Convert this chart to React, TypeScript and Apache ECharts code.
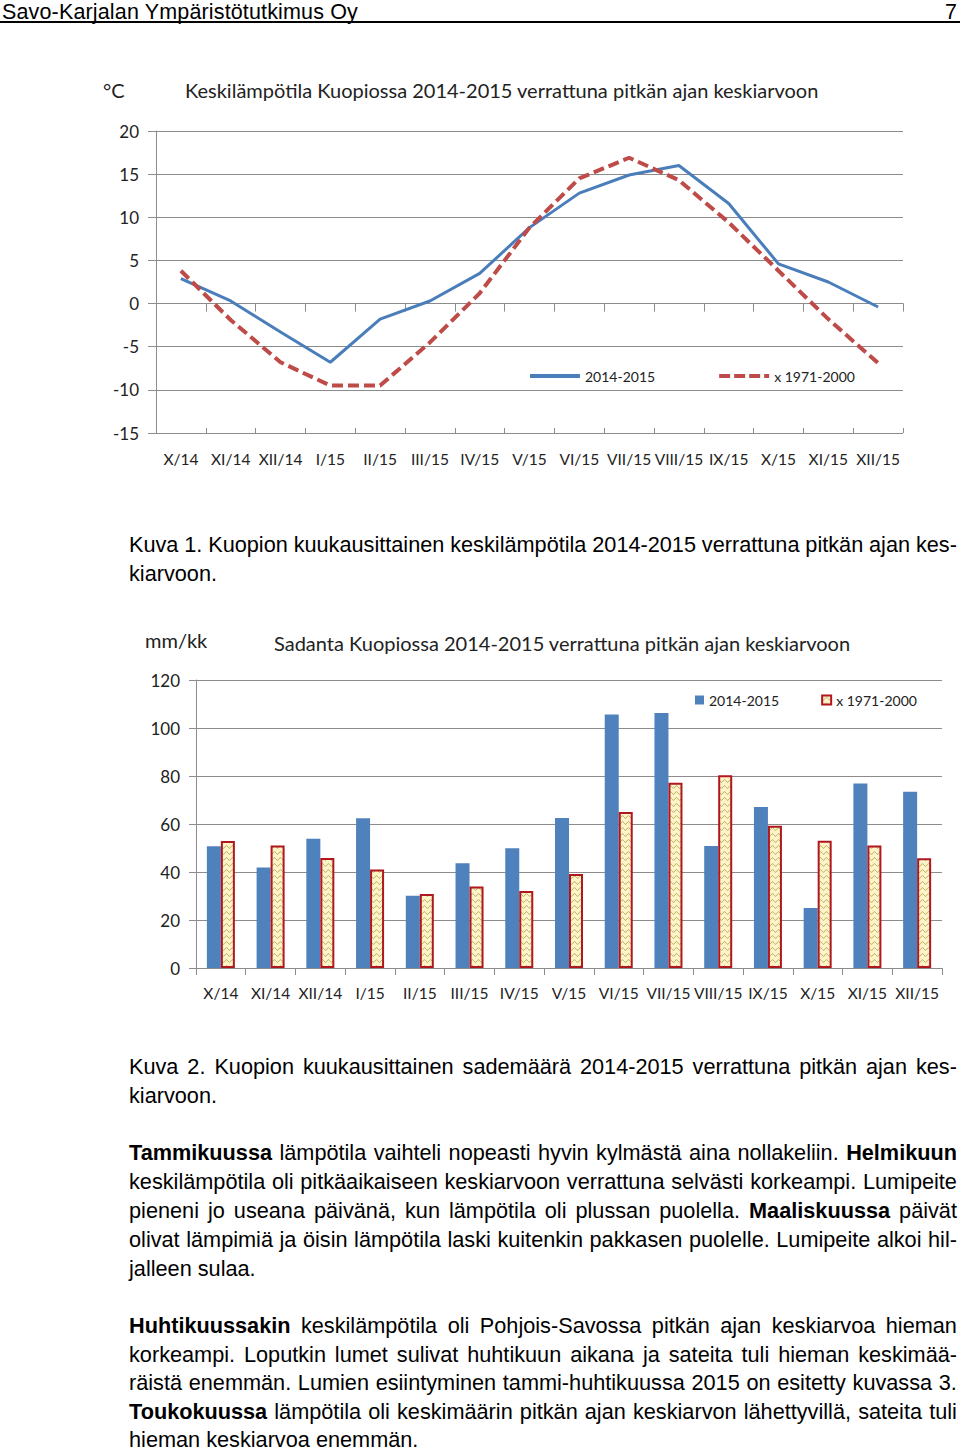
import React, { useEffect, useRef } from "react";
import * as echarts from "echarts";

// ---------- data ----------
const months = ["X/14", "XI/14", "XII/14", "I/15", "II/15", "III/15", "IV/15", "V/15", "VI/15", "VII/15", "VIII/15", "IX/15", "X/15", "XI/15", "XII/15"];
const temp20142015 = [2.9, 0.3, -3.3, -6.8, -1.8, 0.3, 3.5, 8.8, 12.8, 14.9, 16.0, 11.6, 4.6, 2.5, -0.4];
const temp19712000 = [3.8, -1.9, -6.8, -9.5, -9.5, -4.5, 1.2, 8.8, 14.5, 16.9, 14.3, 9.4, 3.8, -1.8, -6.9];
const rain20142015 = [50.7, 41.9, 53.9, 62.4, 30.1, 43.6, 49.9, 62.5, 105.6, 106.2, 50.8, 67.1, 25.0, 76.9, 73.4];
const rain19712000 = [52.9, 51.0, 45.8, 41.0, 30.8, 34.0, 32.1, 39.2, 65.0, 77.2, 80.3, 59.3, 53.0, 51.0, 45.7];
const seriesNames = ["2014-2015", "x 1971-2000"];
const tempAxis = { min: -15, max: 20, interval: 5 };
const rainAxis = { min: 0, max: 120, interval: 20 };

const headerLeft = "Savo-Karjalan Ympäristötutkimus Oy";
const headerRight = "7";
const tempUnit = "°C";
const tempTitle = "Keskilämpötila Kuopiossa 2014-2015 verrattuna pitkän ajan keskiarvoon";
const rainUnit = "mm/kk";
const rainTitle = "Sadanta Kuopiossa 2014-2015 verrattuna pitkän ajan keskiarvoon";

const caption1 = ["Kuva 1. Kuopion kuukausittainen keskilämpötila 2014-2015 verrattuna pitkän ajan kes-", "kiarvoon."];
const caption2 = ["Kuva 2. Kuopion kuukausittainen sademäärä 2014-2015 verrattuna pitkän ajan kes-", "kiarvoon."];
const para1 = [
  "**Tammikuussa** lämpötila vaihteli nopeasti hyvin kylmästä aina nollakeliin. **Helmikuun**",
  "keskilämpötila oli pitkäaikaiseen keskiarvoon verrattuna selvästi korkeampi. Lumipeite",
  "pieneni jo useana päivänä, kun lämpötila oli plussan puolella. **Maaliskuussa** päivät",
  "olivat lämpimiä ja öisin lämpötila laski kuitenkin pakkasen puolelle. Lumipeite alkoi hil-",
  "jalleen sulaa.",
];
const para2 = [
  "**Huhtikuussakin** keskilämpötila oli Pohjois-Savossa pitkän ajan keskiarvoa hieman",
  "korkeampi. Loputkin lumet sulivat huhtikuun aikana ja sateita tuli hieman keskimää-",
  "räistä enemmän. Lumien esiintyminen tammi-huhtikuussa 2015 on esitetty kuvassa 3.",
  "**Toukokuussa** lämpötila oli keskimäärin pitkän ajan keskiarvon lähettyvillä, sateita tuli",
  "hieman keskiarvoa enemmän.",
];

const BLUE = "#4A7EBB";
const RED = "#BE4B48";
const GRID = "#8C8C8C";
const TXT = "#222";
const CHART_FONT = "Lato, 'Open Sans', sans-serif";
const DASH_ICON = "path://M0,0H11V4H0Z M15,0H26V4H15Z M30,0H41V4H30Z M45,0H50V4H45Z";

function makePattern() {
  const c = document.createElement("canvas");
  c.width = 6;
  c.height = 6;
  const ctx = c.getContext("2d");
  if (ctx) {
    ctx.fillStyle = "#FFF4C8";
    ctx.fillRect(0, 0, 6, 6);
    ctx.strokeStyle = "#A9AC5C";
    ctx.lineWidth = 1;
    ctx.beginPath();
    for (let x = 0; x <= 6; x += 0.5) {
      const y = 3 + Math.sin((x / 6) * Math.PI * 2) * 1.3;
      if (x === 0) ctx.moveTo(x, y);
      else ctx.lineTo(x, y);
    }
    ctx.stroke();
  }
  return c;
}

const titleStyle = { fontFamily: CHART_FONT, fontSize: 20, fontWeight: "normal", color: TXT, lineHeight: 22 };

function TempChart() {
  const ref = useRef<HTMLDivElement>(null);
  useEffect(() => {
    if (!ref.current) return;
    const chart = echarts.init(ref.current, undefined, { renderer: "svg" });
    chart.setOption({
      animation: false,
      title: [
        { text: tempUnit, left: 103, top: 19, padding: 0, textStyle: titleStyle },
        { text: tempTitle, left: 185, top: 19, padding: 0, textStyle: titleStyle },
      ],
      legend: {
        left: 530,
        top: 309,
        itemWidth: 50,
        itemHeight: 4,
        itemGap: 64,
        padding: 0,
        textStyle: { fontFamily: CHART_FONT, fontSize: 14, color: TXT },
        data: [
          { name: seriesNames[0], icon: "rect" },
          { name: seriesNames[1], icon: DASH_ICON },
        ],
      },
      grid: { left: 156, top: 71, width: 747, height: 302 },
      xAxis: [
        {
          type: "category",
          data: months,
          position: "bottom",
          axisLine: { onZero: true, lineStyle: { color: GRID, width: 1 } },
          axisTick: { show: true, length: 8, lineStyle: { color: GRID } },
          axisLabel: { show: false },
        },
        {
          type: "category",
          data: months,
          position: "bottom",
          axisLine: { show: false, onZero: false },
          axisTick: { show: false },
          axisLabel: { interval: 0, margin: 18, fontFamily: CHART_FONT, fontSize: 15.5, color: TXT },
        },
        {
          type: "category",
          data: months,
          position: "bottom",
          axisLine: { onZero: true, show: false },
          axisTick: { show: true, inside: true, length: 5, lineStyle: { color: GRID } },
          axisLabel: { show: false },
        },
      ],
      yAxis: {
        type: "value",
        min: tempAxis.min,
        max: tempAxis.max,
        interval: tempAxis.interval,
        axisLine: { show: true, lineStyle: { color: GRID } },
        axisTick: { show: true, length: 8, lineStyle: { color: GRID } },
        splitLine: { lineStyle: { color: GRID, width: 1 } },
        axisLabel: { margin: 17, fontFamily: CHART_FONT, fontSize: 17, color: TXT },
      },
      series: [
        {
          name: seriesNames[0],
          type: "line",
          data: temp20142015,
          symbol: "none",
          lineStyle: { color: BLUE, width: 3 },
          itemStyle: { color: BLUE },
        },
        {
          name: seriesNames[1],
          type: "line",
          data: temp19712000,
          symbol: "none",
          lineStyle: { color: RED, width: 4, type: [11, 5] },
          itemStyle: { color: RED },
        },
      ],
    });
    return () => chart.dispose();
  }, []);
  return <div ref={ref} style={{ position: "absolute", left: 0, top: 60, width: 960, height: 420 }} />;
}

function RainChart() {
  const ref = useRef<HTMLDivElement>(null);
  useEffect(() => {
    if (!ref.current) return;
    const chart = echarts.init(ref.current, undefined, { renderer: "svg" });
    const pattern = makePattern();
    chart.setOption({
      animation: false,
      title: [
        { text: rainUnit, left: 145, top: 19, padding: 0, textStyle: titleStyle },
        { text: rainTitle, left: 274, top: 22, padding: 0, textStyle: titleStyle },
      ],
      legend: {
        left: 695,
        top: 83,
        icon: "rect",
        itemWidth: 9,
        itemHeight: 9,
        itemGap: 42,
        padding: 0,
        textStyle: { fontFamily: CHART_FONT, fontSize: 14, color: TXT },
        data: seriesNames,
      },
      grid: { left: 196, top: 70, width: 746, height: 288 },
      xAxis: {
        type: "category",
        data: months,
        axisLine: { lineStyle: { color: GRID } },
        axisTick: { show: true, length: 7, lineStyle: { color: GRID } },
        axisLabel: { interval: 0, margin: 17, fontFamily: CHART_FONT, fontSize: 15.5, color: TXT },
      },
      yAxis: {
        type: "value",
        min: rainAxis.min,
        max: rainAxis.max,
        interval: rainAxis.interval,
        axisLine: { show: true, lineStyle: { color: GRID } },
        axisTick: { show: true, length: 7, lineStyle: { color: GRID } },
        splitLine: { lineStyle: { color: GRID, width: 1 } },
        axisLabel: { margin: 16, fontFamily: CHART_FONT, fontSize: 17, color: TXT },
      },
      series: [
        {
          name: seriesNames[0],
          type: "bar",
          data: rain20142015,
          barWidth: 14,
          barGap: "0%",
          itemStyle: { color: "#4F81BD" },
        },
        {
          name: seriesNames[1],
          type: "bar",
          data: rain19712000,
          barWidth: 14,
          barGap: "0%",
          itemStyle: { color: { image: pattern, repeat: "repeat" }, borderColor: "#B0171F", borderWidth: 2 },
        },
      ],
    });
    return () => chart.dispose();
  }, []);
  return <div ref={ref} style={{ position: "absolute", left: 0, top: 610, width: 960, height: 410 }} />;
}

const TEXT_FONT = "'Liberation Sans', Arial, sans-serif";
const TEXT_SIZE = 21.7;

function TextLine({ text, centerY, justify }: { text: string; centerY: number; justify: boolean }) {
  const words = text.split(" ");
  return (
    <div
      style={{
        position: "absolute",
        left: 129,
        top: centerY - 11,
        width: 828,
        height: 22,
        lineHeight: "22px",
        fontFamily: TEXT_FONT,
        fontSize: TEXT_SIZE,
        color: "#000",
        display: "flex",
        justifyContent: justify ? "space-between" : "flex-start",
        whiteSpace: "pre",
      }}
    >
      {words.map((w, i) => {
        const bold = w.startsWith("**");
        const clean = w.replace(/\*\*/g, "");
        return (
          <span key={i} style={{ fontWeight: bold ? "bold" : "normal", flexShrink: 0 }}>
            {clean}
            {!justify && i < words.length - 1 ? " " : ""}
          </span>
        );
      })}
    </div>
  );
}

function Block({ lines, startY, step }: { lines: string[]; startY: number; step: number }) {
  return (
    <>
      {lines.map((l, i) => (
        <TextLine key={i} text={l} centerY={startY + i * step} justify={i < lines.length - 1} />
      ))}
    </>
  );
}

const headerStyle = {
  position: "absolute" as const,
  top: 1.2,
  height: 22,
  lineHeight: "22px",
  fontFamily: TEXT_FONT,
  fontSize: 21.5,
  letterSpacing: 0.15,
  color: "#000",
  whiteSpace: "pre" as const,
};

export default function App() {
  return (
    <div style={{ position: "absolute", left: 0, top: 0, width: 960, height: 1451, background: "#fff", overflow: "hidden" }}>
      <div style={{ ...headerStyle, left: 2 }}>{headerLeft}</div>
      <div style={{ ...headerStyle, right: 3 }}>{headerRight}</div>
      <div style={{ position: "absolute", left: 0, top: 21, width: 960, height: 2, background: "#000" }} />
      <TempChart />
      <RainChart />
      <Block lines={caption1} startY={545} step={29} />
      <Block lines={caption2} startY={1067} step={29} />
      <Block lines={para1} startY={1153} step={29} />
      <Block lines={para2} startY={1326} step={28.5} />
    </div>
  );
}
